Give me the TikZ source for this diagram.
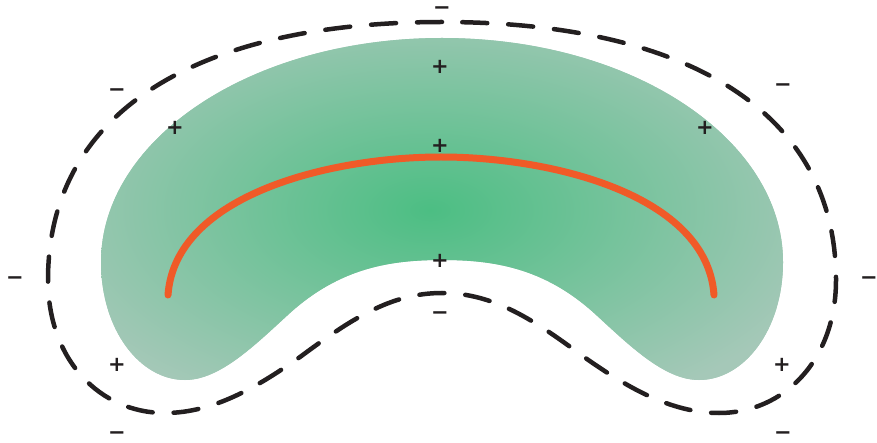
\documentclass[tikz,border=0pt]{standalone}
\usepackage{fontspec}
\newfontfamily\signfont{DejaVu Sans}
\definecolor{kc}{RGB}{76,190,131}
\definecolor{ko}{RGB}{165,200,184}
\definecolor{arcorange}{RGB}{240,90,40}
\definecolor{ink}{RGB}{35,31,32}
\pgfdeclareradialshading{kidneyshade}{\pgfpoint{0bp}{0bp}}{color(0bp)=(kc); color(25bp)=(ko); color(50bp)=(ko)}
\newcommand\mnsglyph{\raisebox{-7.2pt}[1.6pt][1.6pt]{−}}
\tikzset{
  sign/.style={font=\signfont\bfseries\fontsize{21}{21}\selectfont, text=ink, inner sep=0pt},
  minussign/.style={sign},
  dashline/.style={draw=ink, line width=4.5pt, line cap=round, dash pattern=on 25pt off 21pt},
  arcline/.style={draw=arcorange, line width=7pt, line cap=round},
}
\begin{document}
\begin{tikzpicture}[x=1pt,y=-1pt]
\useasboundingbox (0,0) rectangle (877,443);
\def\blob{(442,38) .. controls (250,38) and (101,140) .. (101,262)
  .. controls (101,330) and (140,380) .. (185,380)
  .. controls (220,380) and (255,345) .. (290,313)
  .. controls (340,268) and (390,260) .. (442,260)
  .. controls (494,260) and (544,268) .. (594,313)
  .. controls (629,345) and (664,380) .. (699,380)
  .. controls (744,380) and (783,330) .. (783,262)
  .. controls (783,140) and (634,38) .. (442,38) -- cycle}
\fill[ko] \blob;
\begin{scope}
  \clip \blob;
  \shade[shading=kidneyshade] (20,-10) rectangle (840,430);
\end{scope}
% dashed outline
\draw[dashline] (442,22) .. controls (200,22) and (48,110) .. (48,280)
  .. controls (48,360) and (100,413) .. (165,413)
  .. controls (215,413) and (260,385) .. (300,357)
  .. controls (350,320) and (390,293) .. (442,293)
  .. controls (494,293) and (534,320) .. (584,357)
  .. controls (624,385) and (669,413) .. (719,413)
  .. controls (784,413) and (836,360) .. (836,280)
  .. controls (836,110) and (684,22) .. (442,22) -- cycle;
% orange arc
\draw[arcline] (168,295) .. controls (175,195) and (330,157) .. (441,157)
  .. controls (552,157) and (707,195) .. (714,295);
% signs
\node[minussign] (m1) at (442,7) {\mnsglyph};
\node[sign] (p1) at (440,67) {+};
\node[minussign] (m2) at (117,89) {\mnsglyph};
\node[sign] (p2) at (175,128) {+};
\node[sign] (p3) at (440,146) {+};
\node[sign] (p4) at (705,128) {+};
\node[minussign] (m3) at (783,84) {\mnsglyph};
\node[minussign] (m4) at (15,277) {\mnsglyph};
\node[sign] (p5) at (440,261) {+};
\node[minussign] (m5) at (440,312) {\mnsglyph};
\node[minussign] (m6) at (869,277) {\mnsglyph};
\node[sign] (p6) at (117,365) {+};
\node[sign] (p7) at (782,365) {+};
\node[minussign] (m7) at (117,432) {\mnsglyph};
\node[minussign] (m8) at (783,432) {\mnsglyph};
\end{tikzpicture}
\end{document}
